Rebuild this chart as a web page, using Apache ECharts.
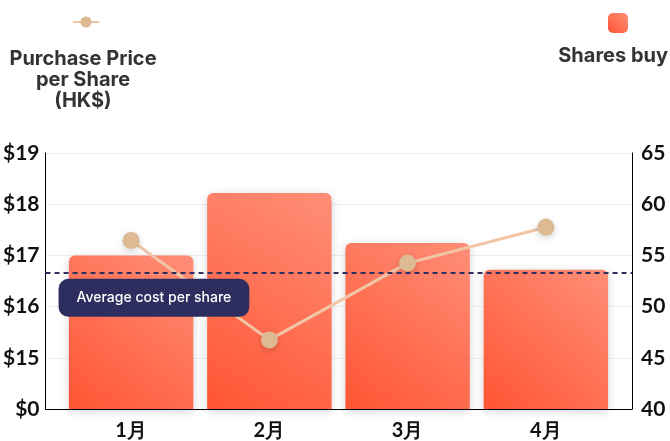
<!DOCTYPE html>
<html>
<head>
<meta charset="utf-8">
<script src="https://cdn.jsdelivr.net/npm/echarts@6/dist/echarts.min.js"></script>
<style>
html,body{margin:0;padding:0;background:#fff;}
#chart{width:670px;height:441px;}
</style>
</head>
<body>
<div id="chart"></div>
<script>
const categories = ['1月', '2月', '3月', '4月'];
const pricePerShare = [17.29, 15.35, 16.85, 17.55];
const sharesBought = [55, 61.1, 56.2, 53.6];
const averageCost = 16.66;
const priceTicks = { min: 14, max: 19, interval: 1 };
const shareTicks = { min: 40, max: 65, interval: 5 };
const priceSeriesName = 'Purchase Price per Share (HK$)';
const priceLegendText = 'Purchase Price\nper Share\n(HK$)';
const sharesSeriesName = 'Shares buy';
const avgLabel = 'Average cost per share';

const chart = echarts.init(document.getElementById('chart'));
const barGradient = new echarts.graphic.LinearGradient(0, 1, 1, 0, [
  { offset: 0, color: '#FF5534' },
  { offset: 1, color: '#FF8E77' }
]);
const axisLabelFont = { fontFamily: 'Lato', fontWeight: 'bold', fontSize: 21, color: '#111' };
const legendFont = { fontFamily: 'Inter', fontWeight: 700, fontSize: 20, lineHeight: 21, fill: '#333' };

chart.setOption({
  animation: false,
  backgroundColor: '#fff',
  grid: [
    { left: 44, right: 38, top: 153, bottom: 32 },
    { left: 62, right: 55, top: 153, bottom: 32 }
  ],
  legend: [
    {
      data: [priceSeriesName],
      left: 67, top: 10,
      itemWidth: 26, itemHeight: 14,
      formatter: () => '',
      selectedMode: false
    },
    {
      data: [{ name: sharesSeriesName, icon: 'roundRect' }],
      left: 603, top: 8,
      itemWidth: 20, itemHeight: 20,
      formatter: () => '',
      selectedMode: false
    }
  ],
  graphic: [
    {
      type: 'text',
      style: Object.assign({
        text: priceLegendText,
        x: 83, y: 48,
        align: 'center', textAlign: 'center'
      }, legendFont)
    },
    {
      type: 'text',
      style: Object.assign({
        text: sharesSeriesName,
        x: 668, y: 45,
        align: 'right', textAlign: 'right'
      }, legendFont)
    }
  ],
  xAxis: [
    {
      gridIndex: 0, type: 'category', data: categories,
      axisLine: { lineStyle: { color: '#000', width: 1 } },
      axisTick: { show: false }, axisLabel: { show: false }
    },
    {
      gridIndex: 1, type: 'category', data: categories,
      axisLine: { show: false }, axisTick: { show: false },
      axisLabel: Object.assign({ margin: 12 }, axisLabelFont, { fontSize: 20 })
    }
  ],
  yAxis: [
    {
      gridIndex: 0, type: 'value', position: 'left',
      min: priceTicks.min, max: priceTicks.max, interval: priceTicks.interval,
      axisLine: { show: true, lineStyle: { color: '#000', width: 1 } },
      axisTick: { show: false },
      splitLine: { show: true, lineStyle: { color: '#eeeeee' } },
      axisLabel: Object.assign({
        margin: 6,
        formatter: v => v === priceTicks.min ? '$0' : '$' + v
      }, axisLabelFont)
    },
    {
      gridIndex: 0, type: 'value', position: 'right',
      min: shareTicks.min, max: shareTicks.max, interval: shareTicks.interval,
      axisLine: { show: true, lineStyle: { color: '#000', width: 1 } },
      axisTick: { show: false },
      splitLine: { show: false },
      axisLabel: Object.assign({ margin: 9 }, axisLabelFont)
    },
    {
      gridIndex: 1, type: 'value', position: 'left',
      min: priceTicks.min, max: priceTicks.max, interval: priceTicks.interval,
      show: false, splitLine: { show: false }
    },
    {
      gridIndex: 1, type: 'value', position: 'right',
      min: shareTicks.min, max: shareTicks.max, interval: shareTicks.interval,
      show: false, splitLine: { show: false }
    }
  ],
  series: [
    {
      name: sharesSeriesName, type: 'bar',
      xAxisIndex: 1, yAxisIndex: 3,
      data: sharesBought,
      barWidth: '90%',
      itemStyle: {
        color: barGradient,
        borderRadius: [6, 6, 0, 0],
        shadowBlur: 8, shadowColor: 'rgba(0,0,0,0.18)', shadowOffsetY: 2
      },
      z: 2
    },
    {
      name: priceSeriesName, type: 'line',
      xAxisIndex: 1, yAxisIndex: 2,
      data: pricePerShare,
      symbol: 'circle', symbolSize: 17,
      lineStyle: { color: '#F0C6A6', width: 3 },
      itemStyle: {
        color: '#DDBA92',
        shadowBlur: 6, shadowColor: 'rgba(0,0,0,0.18)', shadowOffsetY: 2
      },
      z: 4
    },
    {
      name: 'avg', type: 'line',
      xAxisIndex: 0, yAxisIndex: 0,
      data: [],
      z: 6,
      markLine: {
        silent: true,
        symbol: ['none', 'none'],
        lineStyle: { color: '#2D2E5F', type: [5, 4], width: 2 },
        data: [{ yAxis: averageCost }],
        label: {
          show: true,
          position: 'insideStartBottom',
          formatter: avgLabel,
          distance: [13, 6],
          backgroundColor: '#2D2E5F',
          color: '#fff',
          fontFamily: 'Inter', fontWeight: 500, fontSize: 14,
          padding: [12, 18],
          borderRadius: 10
        }
      }
    }
  ]
});
</script>
</body>
</html>
